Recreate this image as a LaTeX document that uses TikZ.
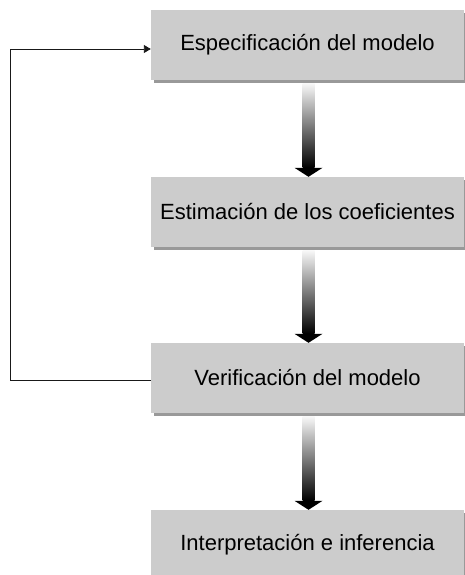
\documentclass[tikz,border=0pt]{standalone}
\usepackage{fontspec}
\setmainfont{Liberation Sans}
\usetikzlibrary{arrows.meta, calc, shadows}

\begin{document}
\begin{tikzpicture}[x=1pt, y=-1pt,
  stage/.style={rectangle, fill=gray!40, minimum width=313pt, minimum height=70pt,
    inner sep=0pt, font=\fontsize{22}{26}\selectfont,
    drop shadow={shadow xshift=3pt, shadow yshift=-3pt, fill=gray!80, opacity=1}},
  ]
  \useasboundingbox (0,0) rectangle (464,575);
  % Stages of the modelling process
  \node[stage] (spec)   at (307.5,45)  {Especificación del modelo};
  \node[stage] (est)    at (307.5,212) {Estimación de los coeficientes};
  \node[stage] (verif)  at (307.5,378) {Verificación del modelo};
  \node[stage] (interp) at (307.5,545) {Interpretación e inferencia};
  % Shaded arrows from one stage to the next
  \foreach \a/\b in {spec/est, est/verif, verif/interp} {
    \shade[top color=gray!5, bottom color=black] ($(\a.south)+(-5,3)$) rectangle ($(\b.north)+(7,-9)$);
    \fill[black] ($(\b.north)+(-13,-9)$) -- ($(\b.north)+(15,-9)$) -- ($(\b.north)+(1,0)$) -- cycle;
  }
  % Feedback loop back to the specification
  \coordinate (back) at (10,49);
  \draw[gray!20!black, line width=0.9pt, -{Triangle[length=7pt,width=8pt]}]
    ($(verif.west)+(0,2)$) -| (back) -- (back -| spec.west);
\end{tikzpicture}
\end{document}
